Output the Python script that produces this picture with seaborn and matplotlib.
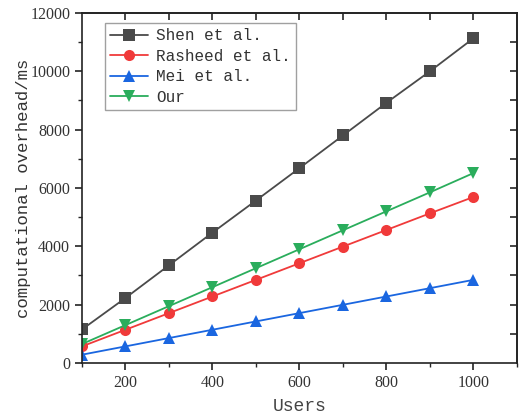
import numpy as np
import pandas as pd
import matplotlib
matplotlib.use("Agg")
import matplotlib.pyplot as plt
import seaborn as sns
from matplotlib.ticker import MultipleLocator

users = [100, 200, 300, 400, 500, 600, 700, 800, 900, 1000]
shen = [1150, 2230, 3350, 4470, 5570, 6680, 7800, 8920, 10000, 11130]
rasheed = [570, 1140, 1710, 2280, 2850, 3420, 3990, 4560, 5130, 5690]
mei = [285, 570, 855, 1140, 1425, 1710, 1995, 2280, 2565, 2850]
our = [650, 1300, 1950, 2600, 3250, 3900, 4550, 5200, 5850, 6510]
series_names = ["Shen et al.", "Rasheed et al.", "Mei et al.", "Our"]

df = pd.concat([
    pd.DataFrame({"Users": users, "value": vals, "method": name})
    for name, vals in zip(series_names, [shen, rasheed, mei, our])
])

sns.set_theme(style="white")
plt.rcParams["font.family"] = ["Liberation Serif", "DejaVu Serif"]

palette = {"Shen et al.": "#4a4a4a", "Rasheed et al.": "#f03a3a",
           "Mei et al.": "#1a66e0", "Our": "#2aad5c"}
markers = {"Shen et al.": "s", "Rasheed et al.": "o",
           "Mei et al.": "^", "Our": "v"}
mono = ["Liberation Mono", "DejaVu Sans Mono"]

fig = plt.figure(figsize=(5.19, 4.17), dpi=100)
ax = fig.add_axes([0.158, 0.1295, 0.838, 0.8395])
sns.lineplot(data=df, x="Users", y="value", hue="method", style="method",
             palette=palette, markers=markers, dashes=False, linewidth=1.3,
             markersize=8, markeredgewidth=0, ax=ax)

ax.set_xlim(100, 1100)
ax.set_ylim(0, 12000)
ax.xaxis.set_minor_locator(MultipleLocator(100))
ax.yaxis.set_major_locator(MultipleLocator(2000))
ax.yaxis.set_minor_locator(MultipleLocator(1000))
ax.set_xticks([200, 400, 600, 800, 1000])
ax.tick_params(which="major", direction="out", length=5, width=1.2,
               labelsize=11.5, colors="#222222", labelcolor="#333333",
               bottom=True, left=True)
ax.tick_params(which="minor", direction="out", length=3, width=1.0,
               bottom=True, left=True)
for s in ax.spines.values():
    s.set_color("#222222")
    s.set_linewidth(1.2)

# mirrored ticks on top and right
axt = ax.secondary_xaxis("top")
axt.set_xticks([200, 300, 400, 500, 600, 700, 800, 900, 1000])
axt.tick_params(direction="in", length=5, width=1.2, labeltop=False, top=True)
axr = ax.secondary_yaxis("right")
axr.set_yticks(list(range(1000, 12000, 1000)))
axr.tick_params(direction="in", length=5, width=1.2, labelright=False, right=True)
for a in (axt, axr):
    for s in a.spines.values():
        s.set_linewidth(1.2)
        s.set_color("#222222")

ax.set_xlabel("Users", fontsize=13, color="#444444", family=mono)
ax.xaxis.set_label_coords(0.5, -0.10)
ax.set_ylabel("computational overhead/ms", fontsize=12.5, color="#333333",
              family=mono)
ax.yaxis.set_label_coords(-0.118, 0.5)

leg = ax.legend(title=None, loc="upper left", bbox_to_anchor=(0.035, 0.993),
                frameon=True, fancybox=False, handlelength=2.4,
                borderpad=0.3, labelspacing=0.35, handletextpad=0.5,
                prop={"family": mono, "size": 11.5})
leg.get_frame().set_edgecolor("#888888")
leg.get_frame().set_linewidth(1.0)
for t in leg.get_texts():
    t.set_color("#333333")

fig.savefig("out.png", dpi=100)
